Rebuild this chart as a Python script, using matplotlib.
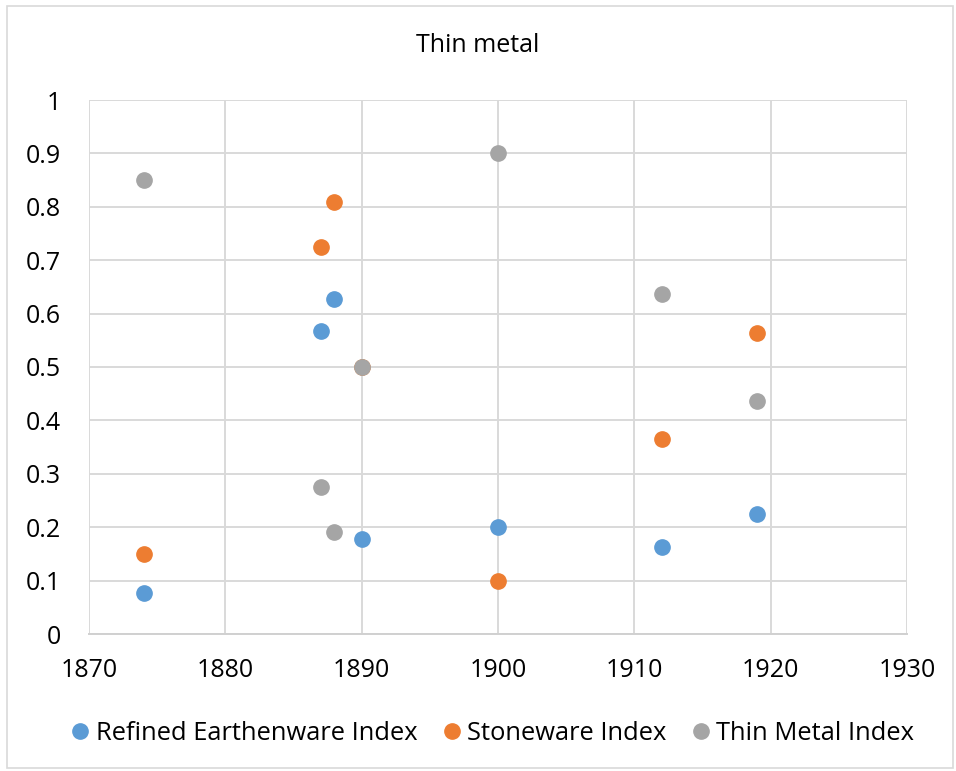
import matplotlib
matplotlib.use("Agg")
import matplotlib.pyplot as plt
from matplotlib.patches import Rectangle
from matplotlib.ticker import FuncFormatter

plt.rcParams["font.family"] = ["Open Sans", "DejaVu Sans"]

years = [1874, 1887, 1888, 1890, 1900, 1912, 1919]
refined = [0.077, 0.567, 0.627, 0.178, 0.200, 0.163, 0.225]
stoneware = [0.150, 0.725, 0.809, 0.500, 0.100, 0.365, 0.564]
thin_metal = [0.850, 0.275, 0.191, 0.500, 0.900, 0.637, 0.436]

series = [("Refined Earthenware Index", refined, "#5B9BD5"),
          ("Stoneware Index", stoneware, "#ED7D31"),
          ("Thin Metal Index", thin_metal, "#A5A5A5")]

fig = plt.figure(figsize=(9.56, 7.71), dpi=100)
ax = fig.add_axes([89/956, 1-634/771, (907-89)/956, (634-100)/771])

for name, vals, col in series:
    ax.plot(years, vals, ls="none", marker="o", ms=11, color=col,
            mec=col, label=name)

ax.set_xlim(1870, 1930)
ax.set_ylim(0, 1)
ax.set_xticks(range(1870, 1931, 10))
ax.set_yticks([i / 10 for i in range(11)])
ax.yaxis.set_major_formatter(FuncFormatter(lambda v, p: f"{v:g}"))
ax.tick_params(length=0, labelsize=18)
ax.tick_params(axis="x", pad=17)
ax.tick_params(axis="y", pad=20)
ax.grid(True, color="#D9D9D9", lw=1.4)
ax.set_axisbelow(True)
for s in ("top", "right", "left"):
    ax.spines[s].set_visible(False)
ax.spines["bottom"].set_color("#D0D0D0")
ax.spines["bottom"].set_linewidth(1.4)

fig.text(0.5, 1-45/771, "Thin metal", ha="center", va="center", fontsize=18)
fig.legend(loc="center", bbox_to_anchor=(493/956, 1-733/771), ncol=3,
           frameon=False, fontsize=18.4, handletextpad=0.25, columnspacing=1.0,
           handlelength=0.7, markerscale=1.0)

fig.patches.append(Rectangle((7/956, 1-768/771), 946/956, 762/771,
                             transform=fig.transFigure, fill=False,
                             ec="#D9D9D9", lw=1.2))

fig.savefig("out.png", dpi=100)
